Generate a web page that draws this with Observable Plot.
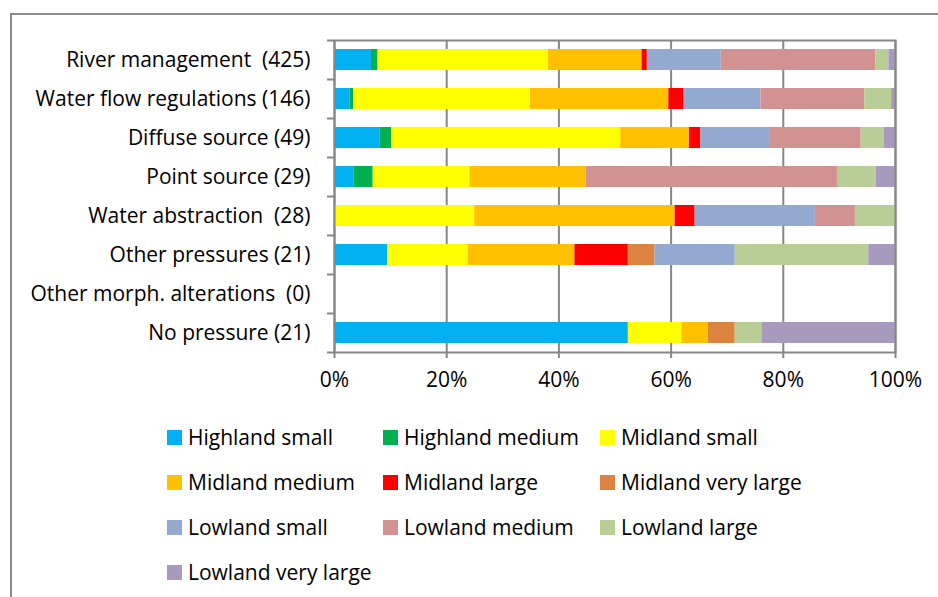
<!DOCTYPE html>
<html><head><meta charset="utf-8">
<script src="https://cdn.jsdelivr.net/npm/d3@7"></script>
<script src="https://cdn.jsdelivr.net/npm/@observablehq/plot@0.6"></script>
<style>
body{margin:0;background:#fff;overflow:hidden;font-family:"Open Sans",sans-serif;}
#wrap{position:relative;width:938px;height:597px;overflow:hidden;}
#border{position:absolute;left:10px;top:13px;width:1000px;height:700px;border:2px solid #8c8c8c;box-sizing:border-box;}
#chart{position:absolute;left:0;top:0;}
#legend{position:absolute;left:0;top:0;width:938px;height:597px;}
.item{position:absolute;display:flex;align-items:center;font-size:21px;color:#000;white-space:nowrap;transform:translateY(-50%);}
.sw{width:15px;height:15px;margin-right:6px;flex:none;}
</style>
</head><body>
<div id="wrap"><div id="border"></div><div id="chart"></div><div id="legend"></div></div>
<script>
const categories = [
  "River management\u00a0\u00a0(425)",
  "Water flow regulations (146)",
  "Diffuse source (49)",
  "Point source (29)",
  "Water abstraction\u00a0\u00a0(28)",
  "Other pressures (21)",
  "Other morph. alterations\u00a0\u00a0(0)",
  "No pressure (21)"
];
const series = ["Highland small","Highland medium","Midland small","Midland medium","Midland large","Midland very large","Lowland small","Lowland medium","Lowland large","Lowland very large"];
const colors = ["#00b0f0","#00b050","#ffff00","#ffc000","#ff0000","#dc843f","#94a9d0","#d39292","#b9cd96","#a899be"];

// counts per category (same order as categories)
const highlandSmall    = [28, 4, 4, 1, 0, 2, 0, 11];
const highlandMedium   = [5, 1, 1, 1, 0, 0, 0, 0];
const midlandSmall     = [129, 46, 20, 5, 7, 3, 0, 2];
const midlandMedium    = [71, 36, 6, 6, 10, 4, 0, 1];
const midlandLarge     = [4, 4, 1, 0, 1, 2, 0, 0];
const midlandVeryLarge = [0, 0, 0, 0, 0, 1, 0, 1];
const lowlandSmall     = [56, 20, 6, 0, 6, 3, 0, 0];
const lowlandMedium    = [117, 27, 8, 13, 2, 0, 0, 0];
const lowlandLarge     = [10, 7, 2, 2, 2, 5, 0, 1];
const lowlandVeryLarge = [5, 1, 1, 1, 0, 1, 0, 5];

const xTicks = [0, 0.2, 0.4, 0.6, 0.8, 1];
const xTickLabels = ["0%", "20%", "40%", "60%", "80%", "100%"];

const seriesValues = [highlandSmall, highlandMedium, midlandSmall, midlandMedium, midlandLarge, midlandVeryLarge, lowlandSmall, lowlandMedium, lowlandLarge, lowlandVeryLarge];
const rows = [];
series.forEach((s, si) => categories.forEach((c, ci) => {
  const v = seriesValues[si][ci];
  if (v > 0) rows.push({series: s, category: c, count: v});
}));

const gray = "#878787";
const font = "'Open Sans', sans-serif";
const chart = Plot.plot({
  width: 938, height: 402,
  marginLeft: 334, marginRight: 43, marginTop: 40, marginBottom: 50,
  style: {fontFamily: font, fontSize: "21px", color: "#000", background: "transparent", overflow: "visible"},
  x: {domain: [0, 1], label: null},
  y: {domain: categories, paddingInner: 0.46, paddingOuter: 0.23, label: null},
  color: {domain: series, range: colors},
  marks: [
    Plot.gridX(xTicks, {stroke: gray, strokeOpacity: 1, strokeWidth: 2}),
    Plot.barX(rows, {x: "count", y: "category", fill: "series", offset: "normalize", order: series}),
    Plot.frame({stroke: gray, strokeWidth: 2}),
    Plot.axisX(xTicks, {tickSize: 6, tickPadding: 14, stroke: gray, strokeWidth: 2, fill: "#000",
      tickFormat: (d) => xTickLabels[xTicks.indexOf(d)], label: null}),
    Plot.axisY({tickSize: 0, tickPadding: 24, fill: "#000", label: null}),
    Plot.axisY({tickSize: 7, tickFormat: () => "", dy: -19.5, stroke: gray, strokeWidth: 2, label: null}),
    Plot.axisY([categories[categories.length - 1]], {tickSize: 7, tickFormat: () => "", dy: 19.5, stroke: gray, strokeWidth: 2, label: null})
  ]
});
document.getElementById("chart").appendChild(chart);

const legend = document.getElementById("legend");
const colX = [167, 383, 600];
series.forEach((s, i) => {
  const el = document.createElement("div");
  el.className = "item";
  el.style.left = colX[i % 3] + "px";
  el.style.top = (437 + 45 * Math.floor(i / 3)) + "px";
  const sw = document.createElement("span");
  sw.className = "sw";
  sw.style.background = colors[i];
  const t = document.createElement("span");
  t.textContent = s;
  el.appendChild(sw); el.appendChild(t);
  legend.appendChild(el);
});
</script>
</body></html>
